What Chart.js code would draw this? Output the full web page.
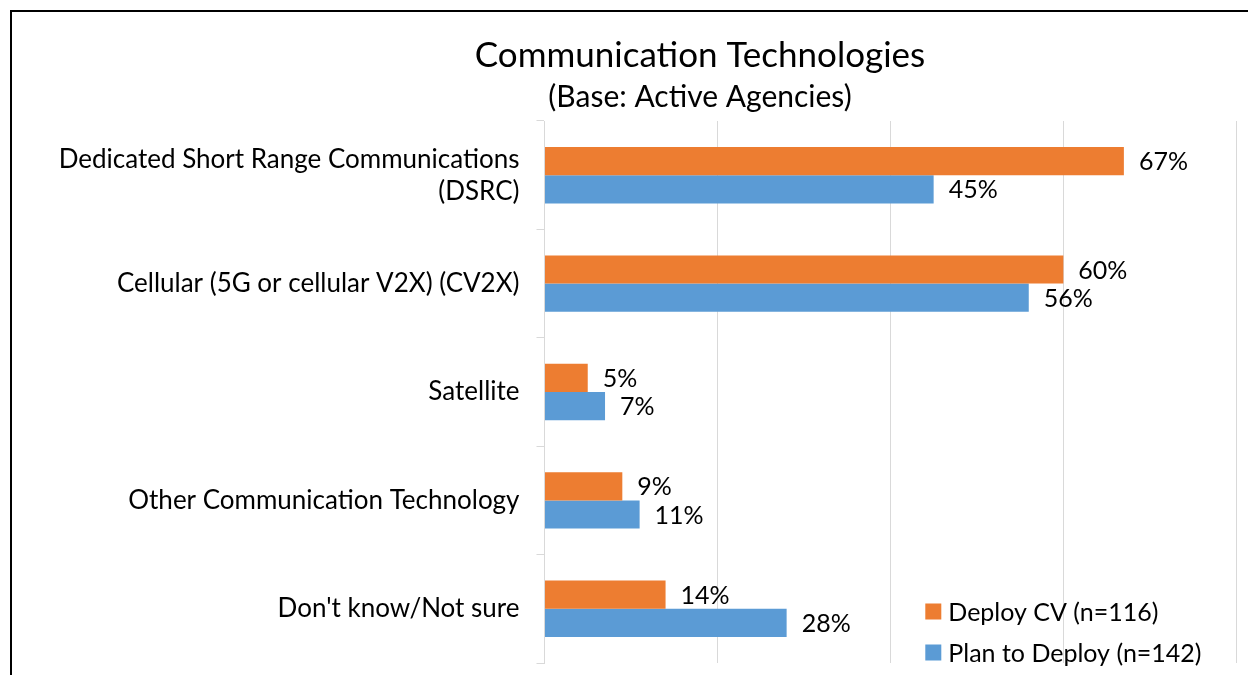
<!DOCTYPE html>
<html>
<head>
<meta charset="utf-8">
<title>Communication Technologies</title>
<script src="https://cdn.jsdelivr.net/npm/chart.js@4.4.1/dist/chart.umd.min.js"></script>
<style>
  html, body { margin: 0; padding: 0; background: #fff; overflow: hidden; }
  #frame { position: absolute; left: 10px; top: 10px; width: 1376px; height: 700px; border: 2px solid #000; }
  #frame canvas { display: block; }
</style>
</head>
<body>
<div id="frame"><canvas id="chart" width="1376" height="700"></canvas></div>
<script>
// data
const categories = [
  ["Dedicated Short Range Communications", "(DSRC)"],
  "Cellular (5G or cellular V2X) (CV2X)",
  "Satellite",
  "Other Communication Technology",
  "Don't know/Not sure"
];
const deployCV = [67, 60, 5, 9, 14];
const planToDeploy = [45, 56, 7, 11, 28];
const seriesNames = ["Deploy CV (n=116)", "Plan to Deploy (n=142)"];
const axisMin = 0;
const axisMax = 80;
const axisStep = 20;

const FONT_FAMILY = "Lato, 'Open Sans', sans-serif";
const VALUE_SIZE = 25;
const CAT_SIZE = 26;
const ORANGE = "#ED7D31";
const BLUE = "#5B9BD5";
const GRID = "#d9d9d9";

// value labels at the end of each bar
const barLabels = {
  id: "barLabels",
  afterDatasetsDraw(chart) {
    const ctx = chart.ctx;
    ctx.save();
    ctx.font = `${VALUE_SIZE}px ${FONT_FAMILY}`;
    ctx.fillStyle = "#000";
    ctx.textAlign = "left";
    ctx.textBaseline = "middle";
    chart.data.datasets.forEach((ds, i) => {
      chart.getDatasetMeta(i).data.forEach((bar, j) => {
        ctx.fillText(ds.data[j] + "%", bar.x + 15, bar.y + 1);
      });
    });
    ctx.restore();
  }
};

// legend stacked in the lower right of the plot
const cornerLegend = {
  id: "cornerLegend",
  afterDraw(chart) {
    const { ctx, chartArea } = chart;
    const x = chartArea.right - 311;
    ctx.save();
    ctx.font = `${VALUE_SIZE}px ${FONT_FAMILY}`;
    ctx.textAlign = "left";
    ctx.textBaseline = "middle";
    chart.data.datasets.forEach((ds, i) => {
      const cy = chartArea.bottom - 51.5 + i * 41;
      ctx.fillStyle = ds.backgroundColor;
      ctx.fillRect(x, cy - 8, 16, 16);
      ctx.fillStyle = "#000";
      ctx.fillText(ds.label, x + 23, cy + 1);
    });
    ctx.restore();
  }
};

new Chart(document.getElementById("chart"), {
  type: "bar",
  data: {
    labels: categories,
    datasets: [
      { label: seriesNames[0], data: deployCV, backgroundColor: ORANGE },
      { label: seriesNames[1], data: planToDeploy, backgroundColor: BLUE }
    ]
  },
  options: {
    indexAxis: "y",
    responsive: false,
    animation: false,
    categoryPercentage: 0.52,
    barPercentage: 1,
    layout: { padding: { left: 0, right: 0, top: 0, bottom: 48.5 } },
    plugins: {
      legend: { display: false },
      tooltip: { enabled: false },
      title: {
        display: true,
        text: "Communication Technologies",
        color: "#000",
        font: { family: FONT_FAMILY, size: 35, weight: "normal" },
        padding: { top: 22.4, bottom: 0 }
      },
      subtitle: {
        display: true,
        text: "(Base: Active Agencies)",
        color: "#000",
        font: { family: FONT_FAMILY, size: 30, weight: "normal" },
        padding: { top: 2.6, bottom: 6 }
      }
    },
    scales: {
      x: {
        min: axisMin,
        max: axisMax,
        ticks: { display: false, stepSize: axisStep },
        grid: { color: GRID, drawTicks: false },
        border: { display: false },
        afterFit(scale) { scale.height = 0; }
      },
      y: {
        ticks: {
          color: "#000",
          padding: 17,
          font: { family: FONT_FAMILY, size: CAT_SIZE, lineHeight: 32 / CAT_SIZE }
        },
        grid: { color: GRID, offset: true, drawOnChartArea: false, tickLength: 8 },
        border: { color: GRID },
        afterFit(scale) { scale.width = 532.5; }
      },
      // empty strip on the right so the titles centre over the whole frame
      rightSpace: {
        type: "linear",
        axis: "y",
        position: "right",
        ticks: { display: false },
        grid: { display: false },
        border: { display: false },
        afterFit(scale) { scale.width = 151.7; }
      }
    }
  },
  plugins: [barLabels, cornerLegend]
});
</script>
</body>
</html>
